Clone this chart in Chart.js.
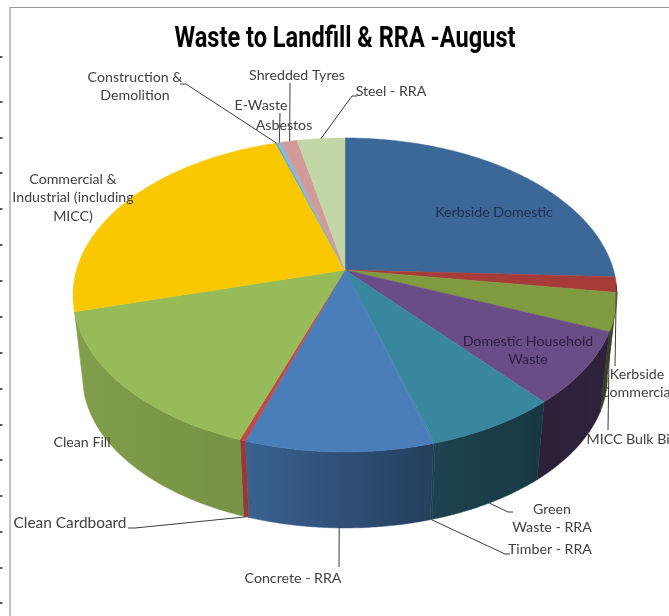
<!DOCTYPE html>
<html><head><meta charset="utf-8">
<style>html,body{margin:0;padding:0;background:#fff;overflow:hidden}canvas{display:block}</style>
<script src="https://cdn.jsdelivr.net/npm/chart.js@4"></script>
</head><body><canvas id="c" width="669" height="616"></canvas>
<script>
const chartTitle = 'Waste to Landfill & RRA -August';
const categories = ['Kerbside Domestic','Kerbside Commercial','MICC Bulk Bin','Domestic Household Waste','Green Waste - RRA','Timber - RRA','Concrete - RRA','Clean Cardboard','Clean Fill','Commercial & Industrial (including MICC)','Construction & Demolition','E-Waste','Asbestos','Shredded Tyres','Steel - RRA'];
const values = [25.7,1.6,3.9,7.5,6.7,0.1,9.6,0.3,15.4,24.4,0.1,0.3,0.05,1.05,3.3];
const colors = ['#3B6799','#A63C38','#7F9A3F','#6A4C87','#38879F','#38879F','#4A7EBB','#BE4B48','#98BB59','#FAC800','#4BACC6','#95B3D7','#D19B9A','#D19B9A','#C3D6A6'];

// projection of the pie's unit circle onto the page
const view = {cx:345, cy:270, A:153, B:268.5, k:0.159, s:0.965, drop:82.4};
const shade = [[0,.5],[95,.55],[112,.45],[140,.42],[164,.5],[199,.78],[260,.85],[360,.85]];
const wallRange = [98,254.7];
const textColor = '#404040', fontName = 'Lato', labelSize = 14.2, lineGap = 18.7;

const labelLayout = [
 {t:['Kerbside Domestic'],x:494,y:212,c:'#20304a'},
 {t:['Kerbside','Commercial'],x:637,y:374},
 {t:['MICC Bulk Bin'],x:632,y:439},
 {t:['Domestic Household','Waste'],x:528,y:341,c:'#2d1f42'},
 {t:['Green','Waste - RRA'],x:552,y:509},
 {t:['Timber - RRA'],x:550,y:549},
 {t:['Concrete - RRA'],x:293,y:578},
 {t:['Clean Cardboard'],x:70,y:523,s:15.4},
 {t:['Clean Fill'],x:82,y:442},
 {t:['Commercial &','Industrial (including','MICC)'],x:73,y:179},
 {t:['Construction &','Demolition'],x:135,y:77},
 {t:['E-Waste'],x:261,y:105},
 {t:['Asbestos'],x:284,y:125},
 {t:['Shredded Tyres'],x:297,y:75},
 {t:['Steel - RRA'],x:391,y:91}
];
const leaders = [
 {i:1,f:.5,d:0,via:[[615,366]]},
 {i:2,f:1,d:0,via:[[608,430]]},
 {i:4,f:.5,d:1,via:[[508,512],[513,512]]},
 {i:5,f:.5,d:1,via:[[505,554],[510,554]]},
 {i:6,f:.5,d:1,via:[[339,567]]},
 {i:7,f:.5,d:1,via:[[135,528],[128,528]]},
 {i:10,f:.5,d:0,via:[[186,84],[180,84]]},
 {i:11,f:.5,d:0,via:[[280,113]]},
 {i:13,f:.5,d:0,via:[[290,83]]},
 {i:14,f:.5,d:0,via:[[352,96],[357,96]]}
];
const frameColor = '#9a9a9a';
const edgeTicks = [57,102,138,173,209,245,281,317,353,389,425,460,496,532,568,603];
const titleBox = {cx:345, base:47, width:341, font:'bold 29px Roboto'};

function project(theta, depth){
  const u=Math.sin(theta), v=-Math.cos(theta), w=1-view.k*v;
  const sc = depth ? view.s : 1;
  return [view.cx+sc*view.B*u/w, view.cy+sc*view.A*v/w+(depth?view.drop:0)];
}
function shadeAt(deg){
  for(let i=1;i<shade.length;i++){
    if(deg<=shade[i][0]){
      const a=shade[i-1],b=shade[i];
      return a[1]+(b[1]-a[1])*(deg-a[0])/(b[0]-a[0]);
    }
  }
  return .85;
}
function tint(hex,f){
  const n=parseInt(hex.slice(1),16);
  return `rgb(${Math.round((n>>16&255)*f)},${Math.round((n>>8&255)*f)},${Math.round((n&255)*f)})`;
}
const pie3d = {
  id:'pie3d',
  beforeDatasetsDraw(chart){
    const ctx=chart.ctx, arcs=chart.getDatasetMeta(0).data;
    const start=a=>a.startAngle+Math.PI/2, end=a=>a.endAngle+Math.PI/2;
    const rad=Math.PI/180, step=rad/2;
    ctx.save();
    // frame
    ctx.strokeStyle=frameColor; ctx.lineWidth=1.2;
    ctx.beginPath(); ctx.moveTo(10,616); ctx.lineTo(10,7.5); ctx.lineTo(669,7.5); ctx.stroke();
    ctx.strokeStyle='#222'; ctx.lineWidth=1.5;
    edgeTicks.forEach(y=>{ctx.beginPath();ctx.moveTo(0,y);ctx.lineTo(2.5,y);ctx.stroke();});
    // title
    ctx.save();
    ctx.font=titleBox.font; ctx.fillStyle='#000'; ctx.textAlign='center'; ctx.textBaseline='alphabetic';
    const tw=ctx.measureText(chartTitle).width;
    ctx.translate(titleBox.cx,titleBox.base); ctx.scale(titleBox.width/tw,1);
    ctx.fillText(chartTitle,0,0);
    ctx.restore();
    // outer walls with a horizontal shading gradient per slice
    arcs.forEach((a,i)=>{
      const a1=Math.max(start(a),wallRange[0]*rad), a2=Math.min(end(a),wallRange[1]*rad);
      if(a2<=a1) return;
      const x1=project(a1,0)[0], x2=project(a2,0)[0];
      let paint=tint(colors[i],shadeAt((a1+a2)/2/rad));
      if(Math.abs(x2-x1)>2){
        paint=ctx.createLinearGradient(x1,0,x2,0);
        for(let n=0;n<=10;n++){
          paint.addColorStop(n/10,tint(colors[i],shadeAt((a1+(a2-a1)*n/10)/rad)));
        }
      }
      ctx.fillStyle=paint; ctx.strokeStyle=paint; ctx.lineWidth=.5;
      ctx.beginPath();
      for(let t=a1;t<a2;t+=step) ctx.lineTo(...project(t,0));
      ctx.lineTo(...project(a2,0));
      for(let t=a2;t>a1;t-=step) ctx.lineTo(...project(t,1));
      ctx.lineTo(...project(a1,1));
      ctx.closePath();ctx.fill();ctx.stroke();
    });
    // top faces
    arcs.forEach((a,i)=>{
      ctx.fillStyle=colors[i]; ctx.strokeStyle=colors[i]; ctx.lineWidth=.5;
      ctx.beginPath();ctx.moveTo(view.cx,view.cy);
      for(let t=start(a);t<end(a);t+=step) ctx.lineTo(...project(t,0));
      ctx.lineTo(...project(end(a),0));ctx.closePath();ctx.fill();ctx.stroke();
    });
    // leader lines
    ctx.strokeStyle='#3a3a3a'; ctx.lineWidth=1;
    leaders.forEach(l=>{
      const a=arcs[l.i], th=start(a)+(end(a)-start(a))*l.f;
      ctx.beginPath();ctx.moveTo(...project(th,l.d));
      l.via.forEach(p=>ctx.lineTo(p[0],p[1]));ctx.stroke();
    });
    // labels
    ctx.textAlign='center';ctx.textBaseline='middle';
    labelLayout.forEach(b=>{
      ctx.font=(b.s||labelSize)+'px '+fontName;
      ctx.fillStyle=b.c||textColor;
      b.t.forEach((s,n)=>ctx.fillText(s,b.x,b.y+n*lineGap));
    });
    ctx.restore();
    return false;
  }
};
new Chart(document.getElementById('c'),{
  type:'pie',
  data:{labels:categories,datasets:[{data:values,backgroundColor:colors,borderWidth:0}]},
  options:{
    responsive:false,animation:false,
    events:[],
    plugins:{
      legend:{display:false},tooltip:{enabled:false},
      title:{display:false,text:chartTitle}
    }
  },
  plugins:[pie3d]
});
</script></body></html>
